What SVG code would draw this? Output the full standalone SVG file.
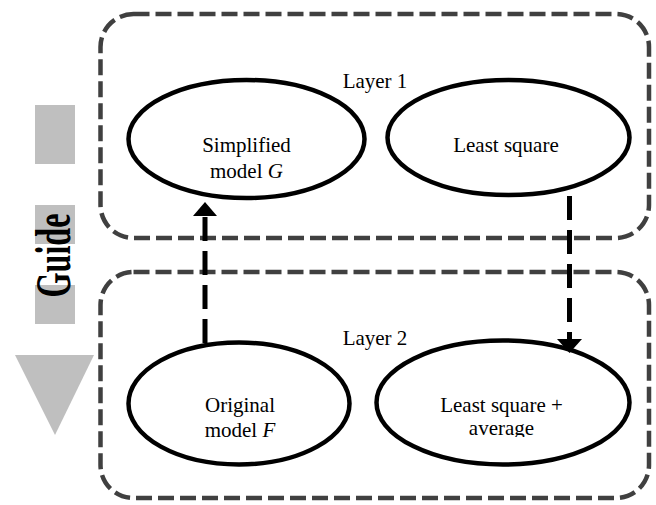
<svg xmlns="http://www.w3.org/2000/svg" width="656" height="505" viewBox="0 0 656 505">
  <style>
    .layer { fill: none; stroke: #404040; stroke-width: 4.5; stroke-dasharray: 16 6; }
    .node { fill: #ffffff; stroke: #000000; stroke-width: 4.5; }
    .lbl { font-family: "Liberation Serif", "Times New Roman", serif; font-size: 21px; fill: #000000; text-anchor: middle; }
    .it { font-style: italic; }
    .guide { fill: #bfbfbf; }
    .conn { fill: none; stroke: #000000; stroke-width: 5; stroke-dasharray: 24 10; }
    .head { fill: #000000; }
  </style>
  <defs>
    <clipPath id="clipAvg">
      <rect x="380" y="300" width="260" height="137"/>
    </clipPath>
  </defs>
  <rect width="656" height="505" fill="#ffffff"/>

  <g id="guide">
    <rect class="guide" x="35" y="105" width="40" height="59"/>
    <rect class="guide" x="35" y="205" width="40" height="39"/>
    <rect class="guide" x="35" y="285" width="40" height="39"/>
    <polygon class="guide" points="15,355 94,355 55,435"/>
    <text transform="translate(70,255.5) rotate(-90)" x="0" y="0" text-anchor="middle" font-family="'Liberation Serif', 'Times New Roman', serif" font-weight="bold" font-size="50" textLength="84" lengthAdjust="spacingAndGlyphs">Guide</text>
  </g>

  <g id="layer1">
    <rect class="layer" x="100.5" y="14" width="548.5" height="224" rx="33" ry="33"/>
    <text class="lbl" x="375" y="88">Layer 1</text>
  </g>
  <g id="layer2">
    <rect class="layer" x="100.5" y="272" width="548.5" height="226" rx="33" ry="33"/>
    <text class="lbl" x="375" y="345">Layer 2</text>
  </g>

  <g id="simplified">
    <ellipse class="node" cx="246.5" cy="139" rx="118" ry="59"/>
    <text class="lbl" x="246.5" y="152">Simplified</text>
    <text class="lbl" x="246.5" y="178">model <tspan class="it">G</tspan></text>
  </g>

  <g id="leastsquare">
    <ellipse class="node" cx="508.5" cy="137.5" rx="121" ry="57.5"/>
    <text class="lbl" x="506" y="152">Least square</text>
  </g>

  <g id="original">
    <ellipse class="node" cx="239" cy="403.5" rx="110.5" ry="61"/>
    <text class="lbl" x="240" y="412">Original</text>
    <text class="lbl" x="240" y="437">model <tspan class="it">F</tspan></text>
  </g>

  <g id="lsaverage">
    <ellipse class="node" cx="503" cy="402.5" rx="126.5" ry="62"/>
    <text class="lbl" x="501.5" y="412">Least square +</text>
    <text class="lbl" x="501.5" y="435" clip-path="url(#clipAvg)">average</text>
  </g>

  <g id="connectors">
    <line class="conn" x1="205" y1="343" x2="205" y2="212"/>
    <polygon class="head" points="193,216 217,216 205,202"/>
    <line class="conn" x1="569.5" y1="196" x2="569.5" y2="340"/>
    <polygon class="head" points="557,339 582,339 569.5,353"/>
  </g>
</svg>
